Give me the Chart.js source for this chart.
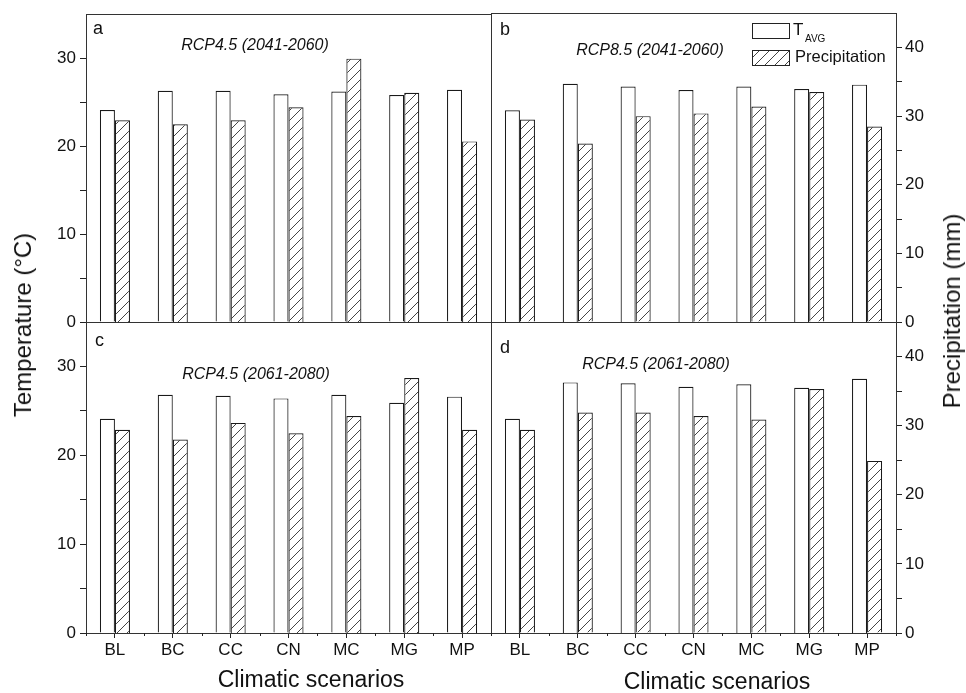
<!DOCTYPE html>
<html>
<head>
<meta charset="utf-8">
<script src="https://cdn.jsdelivr.net/npm/chart.js@4.4.1/dist/chart.umd.min.js"></script>
<style>
body { margin: 0; background: #fff; }
#wrap { position: relative; width: 966px; height: 693px; overflow: hidden; font-family: "Liberation Sans", Arial, sans-serif; color: #111; }
#wrap canvas { position: absolute; left: 0; top: 0; }
.lbl { position: absolute; white-space: nowrap; font-size: 23px; transform: translate(-50%, -50%); }
.rot { transform: translate(-50%, -50%) rotate(-90deg); font-size: 24px; }
</style>
</head>
<body>
<div id="wrap">
    <canvas id="chartA" width="966" height="693"></canvas>
    <canvas id="chartB" width="966" height="693"></canvas>
    <canvas id="chartC" width="966" height="693"></canvas>
    <canvas id="chartD" width="966" height="693"></canvas>
    <div class="lbl rot" style="left:23px; top:325px;">Temperature (°C)</div>
    <div class="lbl rot" style="left:952px; top:311px;">Precipitation (mm)</div>
    <div class="lbl" style="left:311px; top:679px;">Climatic scenarios</div>
    <div class="lbl" style="left:717px; top:681px;">Climatic scenarios</div>
</div>
<script>
// 情景 (x 轴类别)
const scenarios = ['BL', 'BC', 'CC', 'CN', 'MC', 'MG', 'MP'];

// 每个面板的温度 (°C) 与降水 (mm)
const tempA = [24.1, 26.3, 26.3, 25.9, 26.2, 25.8, 26.4];
const precA = [29.5, 28.9, 29.5, 31.4, 38.5, 33.5, 26.4];
const tempB = [24.0, 27.0, 26.7, 26.3, 26.7, 26.4, 26.9];
const precB = [29.5, 26.0, 30.0, 30.4, 31.4, 33.5, 28.5];
const tempC = [24.1, 26.8, 26.7, 26.4, 26.8, 25.9, 26.6];
const precC = [29.4, 28.0, 30.4, 28.9, 31.4, 36.9, 29.4];
const tempD = [24.1, 28.2, 28.1, 27.7, 28.0, 27.6, 28.6];
const precD = [29.4, 31.9, 31.9, 31.4, 30.9, 35.3, 24.9];

// 刻度标签
const tempTicks = [0, 10, 20, 30];
const precTicks = [0, 10, 20, 30, 40];
const tempMax = 35;
const precMax = 45;

const W = 966, H = 693;
const ink = '#111';
const font = '"Liberation Sans", Arial, sans-serif';

// 斜线填充
function makeHatch() {
    const n = 10;
    const c = document.createElement('canvas');
    c.width = n; c.height = n;
    const g = c.getContext('2d');
    g.fillStyle = '#fff';
    g.fillRect(0, 0, n, n);
    g.strokeStyle = '#444';
    g.lineWidth = 1;
    g.beginPath();
    g.moveTo(0, n); g.lineTo(n, 0);
    g.moveTo(-1, 1); g.lineTo(1, -1);
    g.moveTo(n - 1, n + 1); g.lineTo(n + 1, n - 1);
    g.stroke();
    return g.createPattern(c, 'repeat');
}
const hatch = makeHatch();

// 边框、字母、标题、图例
const panelDecor = {
    id: 'panelDecor',
    afterDraw(chart, args, o) {
        const ctx = chart.ctx;
        const a = chart.chartArea;
        ctx.save();
        ctx.strokeStyle = '#333';
        ctx.lineWidth = 1;
        ctx.strokeRect(Math.round(a.left) + 0.5, Math.round(a.top) + 0.5,
            Math.round(a.right - a.left), Math.round(a.bottom - a.top));

        // x 轴类别之间的小刻度
        const xs = chart.scales.x;
        if (xs.options.display) {
            const step = xs.getPixelForValue(1) - xs.getPixelForValue(0);
            ctx.strokeStyle = '#222';
            ctx.beginPath();
            for (let i = 0; i <= scenarios.length; i++) {
                const px = Math.round(xs.getPixelForValue(i) - step / 2) + 0.5;
                ctx.moveTo(px, a.bottom);
                ctx.lineTo(px, a.bottom + 3);
            }
            ctx.stroke();
        }

        ctx.fillStyle = ink;
        ctx.textBaseline = 'alphabetic';
        ctx.textAlign = 'left';
        ctx.font = '18px ' + font;
        ctx.fillText(o.letter, o.letterX, o.letterY);

        ctx.textAlign = 'center';
        ctx.font = 'italic 16px ' + font;
        ctx.fillText(o.title, o.titleX, o.titleY);

        if (o.legend) {
            ctx.textAlign = 'left';
            ctx.lineWidth = 1;
            ctx.strokeStyle = '#222';
            ctx.fillStyle = '#fff';
            ctx.fillRect(752, 23, 37, 15);
            ctx.strokeRect(752.5, 23.5, 37, 15);
            ctx.fillStyle = hatch;
            ctx.fillRect(752, 50, 37, 15);
            ctx.strokeRect(752.5, 50.5, 37, 15);
            ctx.fillStyle = ink;
            ctx.font = '17px ' + font;
            ctx.fillText('T', 793, 35);
            ctx.font = '10px ' + font;
            ctx.fillText('AVG', 805, 42);
            ctx.font = '16.5px ' + font;
            ctx.fillText('Precipitation', 795, 62);
        }
        ctx.restore();
    }
};

function makePanel(id, temps, precs, p) {
    const [l, t, r, b] = p.box;
    new Chart(document.getElementById(id), {
        type: 'bar',
        data: {
            labels: scenarios,
            datasets: [
                {
                    label: 'TAVG',
                    data: temps,
                    yAxisID: 'yT',
                    backgroundColor: '#fff',
                    borderColor: '#1a1a1a',
                    borderWidth: 1.2,
                    categoryPercentage: 0.52,
                    barPercentage: 1
                },
                {
                    label: 'Precipitation',
                    data: precs,
                    yAxisID: 'yP',
                    backgroundColor: hatch,
                    borderColor: '#1a1a1a',
                    borderWidth: 1.2,
                    categoryPercentage: 0.52,
                    barPercentage: 1
                }
            ]
        },
        options: {
            responsive: false,
            animation: false,
            events: [],
            layout: {
                padding: {
                    left: p.left ? 0 : l,
                    right: p.right ? 0 : W - r,
                    top: t,
                    bottom: p.xAxis ? 0 : H - b
                }
            },
            plugins: {
                legend: { display: false },
                tooltip: { enabled: false },
                panelDecor: p.decor
            },
            scales: {
                x: {
                    display: p.xAxis,
                    grid: { offset: false, drawOnChartArea: false, tickLength: 5, color: '#222' },
                    border: { display: false },
                    ticks: { color: ink, font: { size: 17, family: font }, padding: 2, maxRotation: 0 },
                    afterFit: p.xAxis ? s => { s.height = H - b; } : undefined
                },
                yT: {
                    display: p.left,
                    position: 'left',
                    min: 0,
                    max: tempMax,
                    ticks: {
                        stepSize: 5,
                        color: ink,
                        padding: 4,
                        font: { size: 17, family: font },
                        callback: v => tempTicks.includes(v) ? v : ''
                    },
                    grid: {
                        drawOnChartArea: false,
                        tickLength: 6,
                        color: c => (c.tick && c.tick.value === tempMax) ? 'rgba(0,0,0,0)' : '#222'
                    },
                    border: { display: false },
                    afterFit: p.left ? s => { s.width = l; } : undefined
                },
                yP: {
                    display: p.right,
                    position: 'right',
                    min: 0,
                    max: precMax,
                    ticks: {
                        stepSize: 5,
                        color: ink,
                        padding: 3,
                        font: { size: 17, family: font },
                        callback: v => precTicks.includes(v) ? v : ''
                    },
                    grid: {
                        drawOnChartArea: false,
                        tickLength: 6,
                        color: c => (c.tick && c.tick.value === precMax) ? 'rgba(0,0,0,0)' : '#222'
                    },
                    border: { display: false },
                    afterFit: p.right ? s => { s.width = W - r; } : undefined
                }
            }
        },
        plugins: [panelDecor]
    });
}

makePanel('chartA', tempA, precA, {
    box: [86, 13, 491, 322], left: true, right: false, xAxis: false,
    decor: { letter: 'a', letterX: 93, letterY: 34, title: 'RCP4.5 (2041-2060)', titleX: 255, titleY: 50 }
});
makePanel('chartB', tempB, precB, {
    box: [491, 13, 896, 322], left: false, right: true, xAxis: false,
    decor: { letter: 'b', letterX: 500, letterY: 35, title: 'RCP8.5 (2041-2060)', titleX: 650, titleY: 55, legend: true }
});
makePanel('chartC', tempC, precC, {
    box: [86, 322, 491, 633], left: true, right: false, xAxis: true,
    decor: { letter: 'c', letterX: 95, letterY: 346, title: 'RCP4.5 (2061-2080)', titleX: 256, titleY: 379 }
});
makePanel('chartD', tempD, precD, {
    box: [491, 322, 896, 633], left: false, right: true, xAxis: true,
    decor: { letter: 'd', letterX: 500, letterY: 353, title: 'RCP4.5 (2061-2080)', titleX: 656, titleY: 369 }
});
</script>
</body>
</html>
